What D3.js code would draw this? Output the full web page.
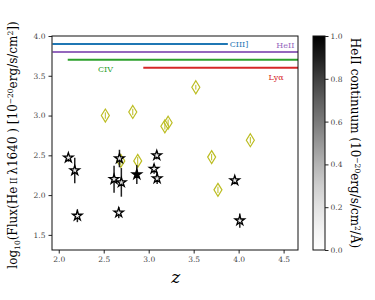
<!DOCTYPE html>
<html>
<head>
<meta charset="utf-8">
<script src="https://cdn.jsdelivr.net/npm/d3@7"></script>
<style>
  body { margin: 0; background: #fff; }
  svg { font-family: "DejaVu Serif", serif; }
</style>
</head>
<body>
<svg id="chart" width="375" height="300"></svg>
<script>
// HeII emitters (stars), fill = HeII continuum
const starZ    = [2.107, 2.178, 2.207, 2.615, 2.696, 2.675, 2.667, 2.868, 3.09, 3.06, 3.094, 3.957, 4.013];
const starFlux = [2.47, 2.31, 1.74, 2.20, 2.16, 2.46, 1.78, 2.26, 2.50, 2.33, 2.21, 2.185, 1.68];
const starErr  = [0.05, 0.16, 0.08, 0.17, 0.18, 0.11, 0.07, 0.12, 0.05, 0.06, 0.07, 0.05, 0.09];
const starCont = [0.15, 0.15, 0.12, 0.15, 0.25, 0.15, 0.12, 1.0, 0.15, 0.15, 0.15, 0.15, 0.15];

// other sources (diamonds)
const diaZ    = [2.518, 2.823, 3.18, 3.216, 3.524, 3.70, 3.77, 4.13, 2.69, 2.878];
const diaFlux = [3.0, 3.045, 2.865, 2.91, 3.356, 2.478, 2.066, 2.69, 2.43, 2.43];
const diaErr  = [0.04, 0.04, 0.04, 0.04, 0.03, 0.04, 0.04, 0.04, 0.05, 0.05];

// redshift coverage of emission lines
const lineNames  = ["CIII]", "HeII", "CIV", "Lyα"];
const lineLevel  = [3.9, 3.8, 3.7, 3.6];
const lineZmin   = [1.93, 1.93, 2.1, 2.94];
const lineZmax   = [3.88, 4.66, 4.66, 4.66];
const lineColors = ["#1f77b4", "#9467bd", "#2ca02c", "#d62728"];

const xTicks = [2.0, 2.5, 3.0, 3.5, 4.0, 4.5];
const yTicks = [1.5, 2.0, 2.5, 3.0, 3.5, 4.0];
const cTicks = [0.0, 0.2, 0.4, 0.6, 0.8, 1.0];

const svg = d3.select("#chart");
const m = {left: 52, right: 298, top: 36, bottom: 250};

const x = d3.scaleLinear().domain([1.925, 4.66]).range([m.left, m.right]);
const y = d3.scaleLinear().domain([1.31, 4.0]).range([m.bottom, m.top]);
const grey = d3.scaleSequential(d3.interpolateGreys).domain([0, 1]);

const defs = svg.append("defs");
defs.append("clipPath").attr("id", "plotclip")
  .append("rect").attr("x", m.left).attr("y", m.top)
  .attr("width", m.right - m.left).attr("height", m.bottom - m.top);

const plot = svg.append("g").attr("clip-path", "url(#plotclip)");

// emission line ranges
plot.selectAll("line.range")
  .data(lineNames)
  .join("line")
  .attr("class", "range")
  .attr("x1", (d, i) => x(lineZmin[i]))
  .attr("x2", (d, i) => x(lineZmax[i]))
  .attr("y1", (d, i) => y(lineLevel[i]))
  .attr("y2", (d, i) => y(lineLevel[i]))
  .attr("stroke", (d, i) => lineColors[i])
  .attr("stroke-width", 2);

// labels for lines
const labelPos = [
  {z: 3.90, dy: 3, anchor: "start"},
  {z: 4.62, dy: -4, anchor: "end"},
  {z: 2.52, dy: 12, anchor: "middle"},
  {z: 4.50, dy: 12, anchor: "end"}
];
svg.selectAll("text.lbl")
  .data(lineNames)
  .join("text")
  .attr("class", "lbl")
  .attr("x", (d, i) => x(labelPos[i].z))
  .attr("y", (d, i) => y(lineLevel[i]) + labelPos[i].dy)
  .attr("text-anchor", (d, i) => labelPos[i].anchor)
  .attr("font-size", 8)
  .attr("fill", (d, i) => lineColors[i])
  .text(d => d);

// diamonds
const diamond = "M0,-6.5L4,0L0,6.5L-4,0Z";
plot.selectAll("line.derr")
  .data(diaZ)
  .join("line")
  .attr("class", "derr")
  .attr("x1", d => x(d)).attr("x2", d => x(d))
  .attr("y1", (d, i) => y(diaFlux[i] - diaErr[i]))
  .attr("y2", (d, i) => y(diaFlux[i] + diaErr[i]))
  .attr("stroke", "#bcbd22").attr("stroke-width", 1);
plot.selectAll("path.dia")
  .data(diaZ)
  .join("path")
  .attr("class", "dia")
  .attr("transform", (d, i) => `translate(${x(d)},${y(diaFlux[i])})`)
  .attr("d", diamond)
  .attr("fill", "none")
  .attr("stroke", "#bcbd22")
  .attr("stroke-width", 1.2);

// stars with error bars
plot.selectAll("line.serr")
  .data(starZ)
  .join("line")
  .attr("class", "serr")
  .attr("x1", d => x(d)).attr("x2", d => x(d))
  .attr("y1", (d, i) => y(starFlux[i] - starErr[i]))
  .attr("y2", (d, i) => y(starFlux[i] + starErr[i]))
  .attr("stroke", "#222").attr("stroke-width", 1.5);
const star = d3.symbol().type(d3.symbolStar).size(28);
plot.selectAll("path.star")
  .data(starZ)
  .join("path")
  .attr("class", "star")
  .attr("transform", (d, i) => `translate(${x(d)},${y(starFlux[i])})`)
  .attr("d", star)
  .attr("fill", (d, i) => grey(starCont[i]))
  .attr("stroke", "#000")
  .attr("stroke-width", 1.3);

// axes
const xAxis = svg.append("g")
  .attr("transform", `translate(0,${m.bottom})`)
  .call(d3.axisBottom(x).tickValues(xTicks).tickFormat(d3.format(".1f")).tickSize(3.5).tickPadding(3));
const yAxis = svg.append("g")
  .attr("transform", `translate(${m.left},0)`)
  .call(d3.axisLeft(y).tickValues(yTicks).tickFormat(d3.format(".1f")).tickSize(3.5).tickPadding(3));
[xAxis, yAxis].forEach(a => {
  a.select(".domain").remove();
  a.selectAll("text").attr("font-family", "DejaVu Serif, serif").attr("font-size", 7.5).attr("fill", "#444");
  a.selectAll("line").attr("stroke", "#222");
});
svg.append("rect")
  .attr("x", m.left).attr("y", m.top)
  .attr("width", m.right - m.left).attr("height", m.bottom - m.top)
  .attr("fill", "none").attr("stroke", "#111").attr("stroke-width", 1);

// axis labels
svg.append("text")
  .attr("x", x(3.3)).attr("y", 283)
  .attr("text-anchor", "middle")
  .attr("font-size", 17)
  .attr("font-style", "italic")
  .text("z");

const yl = svg.append("text")
  .attr("transform", `translate(17,${(m.top + m.bottom) / 2 + 2}) rotate(-90)`)
  .attr("text-anchor", "middle")
  .attr("font-size", 12);
yl.append("tspan").text("log");
yl.append("tspan").attr("font-size", 7.5).attr("dy", 3).text("10");
yl.append("tspan").attr("dy", -3).text("(Flux(He");
yl.append("tspan").attr("font-size", 8.5).text(" II ");
yl.append("tspan").text("λ1640 ) [10");
yl.append("tspan").attr("font-size", 7.5).attr("dy", -4).text("−20");
yl.append("tspan").attr("dy", 4).text("erg/s/cm");
yl.append("tspan").attr("font-size", 7.5).attr("dy", -4).text("2");
yl.append("tspan").attr("dy", 4).text("])");

// colorbar
const cb = {x: 313, w: 12};
const cy = d3.scaleLinear().domain([0, 1]).range([m.bottom, m.top]);
const grad = defs.append("linearGradient").attr("id", "cbgrad")
  .attr("x1", 0).attr("y1", 1).attr("x2", 0).attr("y2", 0);
d3.range(0, 1.01, 0.1).forEach(t => {
  grad.append("stop").attr("offset", t).attr("stop-color", grey(t));
});
svg.append("rect")
  .attr("x", cb.x).attr("y", m.top)
  .attr("width", cb.w).attr("height", m.bottom - m.top)
  .attr("fill", "url(#cbgrad)")
  .attr("stroke", "#111").attr("stroke-width", 1);
const cAxis = svg.append("g")
  .attr("transform", `translate(${cb.x + cb.w},0)`)
  .call(d3.axisRight(cy).tickValues(cTicks).tickFormat(d3.format(".1f")).tickSize(3.5).tickPadding(2));
cAxis.select(".domain").remove();
cAxis.selectAll("text").attr("font-family", "DejaVu Serif, serif").attr("font-size", 7.5).attr("fill", "#444");
cAxis.selectAll("line").attr("stroke", "#222");

const cl = svg.append("text")
  .attr("transform", `translate(351,${(m.top + m.bottom) / 2}) rotate(90)`)
  .attr("text-anchor", "middle")
  .attr("font-size", 12);
cl.append("tspan").text("HeII continuum (10");
cl.append("tspan").attr("font-size", 7.5).attr("dy", -4).text("−20");
cl.append("tspan").attr("dy", 4).text("erg/s/cm");
cl.append("tspan").attr("font-size", 7.5).attr("dy", -4).text("2");
cl.append("tspan").attr("dy", 4).text("/Å)");
</script>
</body>
</html>
